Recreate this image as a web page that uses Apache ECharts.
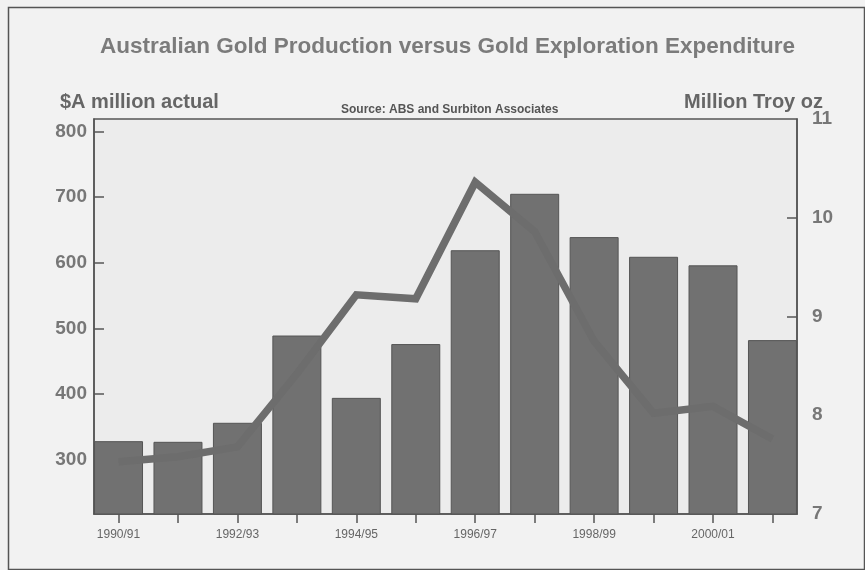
<!DOCTYPE html>
<html>
<head>
<meta charset="utf-8">
<script src="https://cdn.jsdelivr.net/npm/echarts@6/dist/echarts.min.js"></script>
<style>
html,body{margin:0;padding:0;background:#f2f2f2;}
#chart{width:865px;height:570px;}
</style>
</head>
<body>
<div id="chart"></div>
<script>
// ---- data ----
const categories = ['1990/91','1991/92','1992/93','1993/94','1994/95','1995/96','1996/97','1997/98','1998/99','1999/00','2000/01','2001/02'];
const expenditure = [328, 327, 356, 489, 394, 476, 619, 705, 639, 609, 596, 482];   // $A million actual (bars)
const production = [7.53, 7.58, 7.68, 8.42, 9.22, 9.18, 10.36, 9.86, 8.75, 8.02, 8.09, 7.76]; // Million Troy oz (line)
const leftTicks = [300, 400, 500, 600, 700, 800];
const rightTicks = [7, 8, 9, 10, 11];
const rightInnerTicks = [8, 9, 10];
const xTickIdx = categories.map((c, i) => i);
const xLabelIdx = [0, 2, 4, 6, 8, 10];

const barData = expenditure.map((v, i) => [i, v]);
const lineData = production.map((v, i) => [i, v]);

const chart = echarts.init(document.getElementById('chart'));
const axisColor = '#555';
const font = 'Liberation Sans, Arial, sans-serif';

chart.setOption({
  backgroundColor: '#f2f2f2',
  animation: false,
  graphic: [{
    type: 'rect', left: 6, top: 5, shape: {width: 856, height: 562},
    style: {fill: 'none', stroke: '#555', lineWidth: 1.5}, silent: true, z: -1
  }],
  title: [
    {text: 'Australian Gold Production versus Gold Exploration Expenditure', left: 95, top: 30,
     textStyle: {fontFamily: font, fontSize: 22.5, fontWeight: 'bold', color: '#7b7b7b'}},
    {text: '$A million actual', left: 55, top: 87,
     textStyle: {fontFamily: font, fontSize: 20, fontWeight: 'bold', color: '#666'}},
    {text: 'Million Troy oz', right: 37, top: 87,
     textStyle: {fontFamily: font, fontSize: 20, fontWeight: 'bold', color: '#666'}},
    {text: 'Source: ABS and Surbiton Associates', left: 336, top: 99,
     textStyle: {fontFamily: font, fontSize: 12, fontWeight: 'bold', color: '#555'}}
  ],
  grid: {left: 94, right: 68, top: 119, bottom: 56, show: true, backgroundColor: '#ececec',
         borderColor: axisColor, borderWidth: 1.5},
  xAxis: {
    type: 'value', min: -0.4125, max: 11.4125,
    splitLine: {show: false},
    axisLine: {show: true, onZero: false, lineStyle: {color: axisColor, width: 1.5}},
    axisTick: {show: true, length: 9, customValues: xTickIdx, lineStyle: {color: axisColor, width: 1.5}},
    axisLabel: {customValues: xLabelIdx, formatter: v => categories[Math.round(v)] || '',
                fontFamily: font, fontSize: 12, color: '#666', margin: 15}
  },
  yAxis: [
    {
      type: 'value', min: 217, max: 819, position: 'left',
      splitLine: {show: false},
      axisLine: {show: true, onZero: false, lineStyle: {color: axisColor, width: 1.5}},
      axisTick: {show: true, inside: true, length: 10, customValues: leftTicks, lineStyle: {color: axisColor, width: 1.5}},
      axisLabel: {customValues: leftTicks, fontFamily: font, fontSize: 19, fontWeight: 'bold', color: '#777', margin: 7}
    },
    {
      type: 'value', min: 7, max: 11, position: 'right',
      splitLine: {show: false},
      axisLine: {show: true, onZero: false, lineStyle: {color: axisColor, width: 1.5}},
      axisTick: {show: true, inside: true, length: 10, customValues: rightInnerTicks, lineStyle: {color: axisColor, width: 1.5}},
      axisLabel: {customValues: rightTicks, fontFamily: font, fontSize: 19, fontWeight: 'bold', color: '#777', margin: 15}
    }
  ],
  series: [
    {
      type: 'bar', data: barData, yAxisIndex: 0, barWidth: 49,
      itemStyle: {color: '#717171', borderColor: '#555', borderWidth: 1},
      z: 2
    },
    {
      type: 'line', data: lineData, yAxisIndex: 1, symbol: 'none',
      lineStyle: {color: '#6d6d6d', width: 7.5, cap: 'butt', join: 'miter'},
      z: 3
    }
  ]
});
</script>
</body>
</html>
